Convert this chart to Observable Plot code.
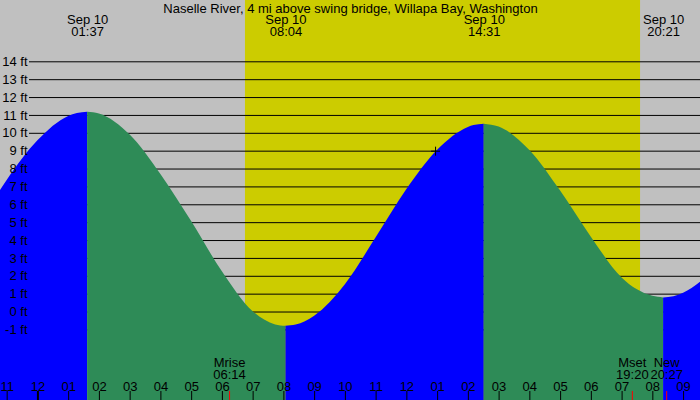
<!DOCTYPE html>
<html>
<head>
<meta charset="utf-8">
<script src="https://cdn.jsdelivr.net/npm/d3@7"></script>
<script src="https://cdn.jsdelivr.net/npm/@observablehq/plot@0.6"></script>
<style>
  html, body { margin: 0; padding: 0; background: #c0c0c0; }
</style>
</head>
<body>
<div id="chart"></div>
<script>
// ---- data ----
const title = "Naselle River, 4 mi above swing bridge, Willapa Bay, Washington";

// tide height readings (ft), times in local clock (stored as UTC)
const tideTimes = [
  "2000-09-09T22:47", "2000-09-09T23:00", "2000-09-10T00:00", "2000-09-10T01:00",
  "2000-09-10T01:17", "2000-09-10T01:37", "2000-09-10T02:00", "2000-09-10T03:00",
  "2000-09-10T04:00", "2000-09-10T05:00", "2000-09-10T06:00", "2000-09-10T07:00",
  "2000-09-10T07:44", "2000-09-10T08:04", "2000-09-10T08:24", "2000-09-10T09:00",
  "2000-09-10T10:00", "2000-09-10T11:00", "2000-09-10T12:00", "2000-09-10T13:00",
  "2000-09-10T14:00", "2000-09-10T14:11", "2000-09-10T14:31", "2000-09-10T15:00",
  "2000-09-10T16:00", "2000-09-10T17:00", "2000-09-10T18:00", "2000-09-10T19:00",
  "2000-09-10T20:00", "2000-09-10T20:21", "2000-09-10T20:41", "2000-09-10T21:00",
  "2000-09-10T21:33"
];
const tideFeet = [
  6.80, 7.36, 9.58, 10.94,
  11.11, 11.18, 11.08, 9.90,
  7.70, 5.06, 2.25, 0.02,
  -0.72, -0.80, -0.73, -0.23,
  1.53, 4.15, 6.85, 9.05,
  10.33, 10.44, 10.51, 10.35,
  9.04, 6.77, 4.19, 1.90,
  0.88, 0.79, 0.86, 1.05,
  1.67
];

// high / low tide events labelled at the top
const extremeTimes = ["2000-09-10T01:37", "2000-09-10T08:04", "2000-09-10T14:31", "2000-09-10T20:21"];

// daylight
const sunrise = "2000-09-10T06:45";
const sunset = "2000-09-10T19:36";

// moon events
const moonNames = ["Mrise", "Mset", "New"];
const moonTimes = ["2000-09-10T06:14", "2000-09-10T19:20", "2000-09-10T20:27"];

// current-time marker
const nowTime = "2000-09-10T12:56";
const nowFeet = 9.0;

// axis labels
const feetTicks = [-1, 0, 1, 2, 3, 4, 5, 6, 7, 8, 9, 10, 11, 12, 13, 14];
const hourLabels = ["11", "12", "01", "02", "03", "04", "05", "06", "07", "08", "09", "10",
                    "11", "12", "01", "02", "03", "04", "05", "06", "07", "08", "09"];
const firstHour = "2000-09-09T23:00";

// view extents
const xDomain = ["2000-09-09T22:47", "2000-09-10T21:33"];
const yDomain = [-4.95, 17.43];

// ---- build tables ----
const T = s => new Date(s + "Z");
const extremeSet = new Set(extremeTimes);
const rows = [];
let seg = 0;
tideTimes.forEach((t, i) => {
  rows.push({time: T(t), feet: tideFeet[i], seg});
  if (extremeSet.has(t)) { seg++; rows.push({time: T(t), feet: tideFeet[i], seg}); }
});
// direction of each segment from its own readings
const segDir = d3.rollup(rows, v => (v[v.length - 1].feet > v[0].feet ? "rising" : "falling"), d => d.seg);
rows.forEach(r => r.dir = segDir.get(r.seg));

const hours = hourLabels.map((label, i) => ({time: d3.utcHour.offset(T(firstHour), i), label}));
const extremes = extremeTimes.map(t => ({time: T(t)}));
const moon = moonNames.map((name, i) => ({name, time: T(moonTimes[i])}));
const fmtTop = d3.utcFormat("%b %d\n%H:%M");
const fmtHM = d3.utcFormat("%H:%M");
const FS = 13;

const chart = Plot.plot({
  width: 700,
  height: 400,
  margin: 0,
  x: {type: "utc", domain: xDomain.map(T), axis: null},
  y: {domain: yDomain, axis: null},
  color: {domain: ["rising", "falling"], range: ["#0000ff", "#2e8b57"]},
  style: {fontFamily: "'Liberation Sans', Arial, sans-serif", fontSize: FS + "px", background: "#c0c0c0", color: "black"},
  marks: [
    Plot.barX([{rise: T(sunrise), set: T(sunset)}], {x1: "rise", x2: "set", fill: "#cccc00"}),
    Plot.ruleY(feetTicks, {y: d => d, stroke: "black", insetLeft: 29}),
    Plot.areaY(rows, {x: "time", y1: yDomain[0], y2: "feet", z: "seg", fill: "dir", curve: "monotone-x"}),
    Plot.text(feetTicks, {y: d => d, text: d => `${d} ft`, frameAnchor: "left", dx: 27, textAnchor: "end", fontSize: FS}),
    Plot.text([title], {text: d => d, frameAnchor: "top", lineAnchor: "top", dy: 3, fontSize: FS}),
    Plot.text(extremes, {x: "time", text: d => fmtTop(d.time), frameAnchor: "top", lineAnchor: "top", dy: 14.8, lineHeight: 0.92, fontSize: FS}),
    Plot.ruleX(hours, {x: "time", insetTop: 391, stroke: "black", strokeWidth: d => (d.time.getUTCHours() === 0 ? 2 : 1)}),
    Plot.text(hours, {x: "time", text: "label", frameAnchor: "bottom", lineAnchor: "bottom", dy: -10, fontSize: FS}),
    Plot.ruleX(moon, {x: "time", insetTop: 391, stroke: "red"}),
    Plot.text(moon, {x: "time", text: d => `${d.name}\n${fmtHM(d.time)}`, frameAnchor: "bottom", lineAnchor: "bottom", dy: -22, lineHeight: 0.92, fontSize: FS}),
    Plot.dot([{time: T(nowTime), feet: nowFeet}], {x: "time", y: "feet", symbol: "plus", r: 3, stroke: "black", strokeWidth: 1})
  ]
});
document.getElementById("chart").appendChild(chart);
</script>
</body>
</html>
